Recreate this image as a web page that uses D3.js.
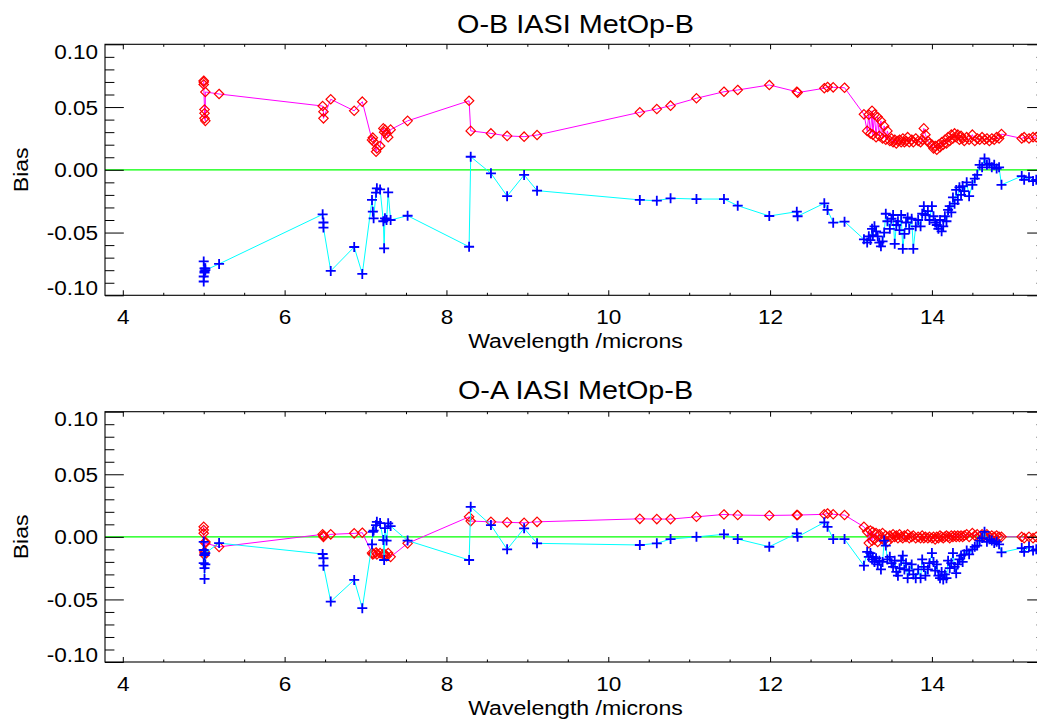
<!DOCTYPE html>
<html><head><meta charset="utf-8">
<script src="https://cdn.jsdelivr.net/npm/d3@7"></script>
<style>
html,body{margin:0;padding:0;background:#fff;}
svg{display:block;}
text{font-family:"Liberation Sans",Arial,Helvetica,sans-serif;fill:#000;}
</style></head><body>
<svg id="chart" width="1037" height="719"></svg>
<script>
// ---- data: channel wavelengths (microns) ----
const wavelengths = [
  5.00, 5.00, 5.00, 5.01, 5.01, 5.01, 5.02, 5.02,
  5.19,
  6.47, 6.48, 6.48,
  6.57, 6.86, 6.96,
  7.08, 7.09, 7.10, 7.13, 7.14, 7.18, 7.22, 7.23, 7.24, 7.26, 7.28, 7.31,
  7.52,
  8.28, 8.30, 8.55, 8.75, 8.96, 9.12,
  10.39, 10.60, 10.77, 11.09, 11.43, 11.60, 11.99, 12.33, 12.34, 12.67, 12.71, 12.78, 12.92, 13.16,
  13.20, 13.22, 13.24, 13.26, 13.27, 13.29, 13.31, 13.33, 13.35, 13.37,
  13.39, 13.41, 13.43, 13.45, 13.48, 13.50, 13.52, 13.54, 13.56, 13.58,
  13.60, 13.62, 13.64, 13.66, 13.68, 13.70, 13.72, 13.75, 13.77, 13.80,
  13.83, 13.86, 13.88, 13.90, 13.92, 13.95, 13.97, 14.00, 14.02, 14.04,
  14.06, 14.08, 14.10, 14.12, 14.14, 14.16, 14.18, 14.20, 14.22, 14.24,
  14.26, 14.28, 14.30, 14.32, 14.34, 14.36, 14.38, 14.40, 14.43, 14.46,
  14.50, 14.53, 14.56, 14.59, 14.62, 14.65, 14.68, 14.71, 14.74, 14.77,
  14.80, 14.83,
  14.86, 15.11, 15.14, 15.20, 15.25, 15.29
];

// O-B panel, diamond series
const obDiamond = [
  0.071, 0.070, 0.068, 0.048, 0.045, 0.041, 0.039, 0.062,
  0.0604,
  0.0508, 0.0463, 0.041,
  0.0562, 0.047, 0.0543,
  0.0238, 0.0256, 0.0224, 0.0144, 0.017, 0.019, 0.033, 0.030, 0.032, 0.029, 0.026, 0.032,
  0.039,
  0.055, 0.031, 0.029, 0.027, 0.0264, 0.0277,
  0.0458, 0.0484, 0.0511, 0.057, 0.0622, 0.0636, 0.0676, 0.0622, 0.0615, 0.065, 0.066, 0.0657, 0.0654, 0.0442,
  0.031, 0.044, 0.029, 0.047, 0.028, 0.044, 0.026, 0.042, 0.027, 0.039,
  0.025, 0.035, 0.024, 0.031, 0.023, 0.025, 0.022, 0.024, 0.021, 0.023,
  0.024, 0.022, 0.025, 0.022, 0.023, 0.026, 0.022, 0.024, 0.022, 0.025,
  0.023, 0.022, 0.024, 0.033, 0.028, 0.023, 0.021, 0.020, 0.017, 0.019,
  0.016, 0.020, 0.018, 0.022, 0.020, 0.024, 0.021, 0.026, 0.023, 0.028,
  0.025, 0.029, 0.026, 0.028, 0.024, 0.027, 0.025, 0.023, 0.026, 0.024,
  0.028, 0.023, 0.025, 0.024, 0.026, 0.024, 0.025, 0.023, 0.025, 0.024,
  0.026, 0.025,
  0.0285, 0.025, 0.026, 0.025, 0.026, 0.026
];

// O-B panel, cross series
const obCross = [
  -0.073, -0.089, -0.085, -0.0785, -0.082, -0.081, -0.0785, -0.080,
  -0.075,
  -0.0355, -0.042, -0.046,
  -0.0806, -0.0615, -0.083,
  -0.024, -0.0334, -0.0387, -0.0182, -0.0148, -0.0156, -0.041, -0.0626, -0.0387, -0.040, -0.018, -0.040,
  -0.0366,
  -0.0613, 0.0104, -0.0028, -0.021, -0.0041, -0.0166,
  -0.024, -0.0246, -0.0227, -0.0233, -0.0233, -0.0286, -0.0368, -0.0334, -0.037, -0.0267, -0.032, -0.0421, -0.0413, -0.0554,
  -0.058, -0.053, -0.056, -0.047, -0.052, -0.045, -0.049, -0.053, -0.058, -0.061,
  -0.057, -0.050, -0.035, -0.041, -0.047, -0.039, -0.036, -0.059, -0.044, -0.041,
  -0.048, -0.036, -0.063, -0.051, -0.042, -0.038, -0.047, -0.039, -0.063, -0.045,
  -0.040, -0.045, -0.035, -0.029, -0.036, -0.033, -0.040, -0.029, -0.037, -0.042,
  -0.044, -0.047, -0.040, -0.049, -0.045, -0.037, -0.041, -0.032, -0.029, -0.034,
  -0.022, -0.027, -0.016, -0.024, -0.014, -0.020, -0.013, -0.017, -0.010, -0.021,
  -0.012, -0.007, -0.004, 0.004, 0.002, 0.009, 0.004, 0.005, 0.002, 0.004,
  0.001, 0.002,
  -0.012, -0.005, -0.008, -0.006, -0.009, -0.008
];

// O-A panel, diamond series
const oaDiamond = [
  0.008, 0.0054, 0.0028, -0.012, -0.0145, -0.013, -0.004, -0.005,
  -0.008,
  0.002, 0.001, 0.0,
  0.002, 0.0028, 0.0033,
  -0.013, -0.014, -0.0135, -0.0125, -0.014, -0.013, -0.0135, -0.015, -0.014, -0.0155, -0.013, -0.016,
  -0.0052,
  0.016, 0.0126, 0.012, 0.0116, 0.0112, 0.012,
  0.0144, 0.0142, 0.0142, 0.016, 0.0179, 0.0174, 0.0171, 0.0174, 0.0174, 0.018, 0.0187, 0.018, 0.0174, 0.008,
  0.004, -0.005, 0.005, -0.003, 0.004, -0.002, 0.003, -0.004, 0.002, -0.001,
  0.003, -0.003, 0.001, -0.004, 0.001, -0.001, 0.002, 0.000, 0.001, -0.001,
  0.002, 0.000, -0.001, 0.001, 0.000, 0.002, -0.001, 0.000, 0.001, -0.001,
  0.000, -0.001, 0.001, -0.001, 0.000, -0.001, 0.000, -0.001, 0.000, -0.002,
  0.000, -0.001, 0.001, 0.000, -0.001, 0.000, 0.001, 0.000, -0.001, 0.001,
  0.000, 0.001, 0.000, 0.001, 0.000, 0.001, 0.000, 0.001, 0.002, 0.000,
  0.003, 0.001, 0.002, 0.000, 0.002, 0.001, 0.002, 0.000, 0.001, 0.000,
  0.001, 0.000,
  0.000, 0.000, -0.001, 0.000, -0.001, 0.000
];

// O-A panel, cross series
const oaCross = [
  -0.004, -0.0105, -0.021, -0.025, -0.0336, -0.0145, -0.022, -0.013,
  -0.005,
  -0.0137, -0.0171, -0.023,
  -0.0517, -0.0344, -0.057,
  -0.006, 0.004, 0.005, 0.0094, 0.012, 0.011, -0.0026, -0.0185, 0.007, -0.003, 0.0108, 0.0086,
  -0.003,
  -0.0185, 0.024, 0.0094, -0.010, 0.0068, -0.0052,
  -0.0065, -0.0052, -0.0018, 0.0, 0.002, -0.0018, -0.0079, 0.0028, 0.0, 0.0116, 0.008, -0.0018, -0.0018, -0.023,
  -0.012, -0.016, -0.013, -0.018, -0.016, -0.020, -0.017, -0.022, -0.019, -0.026,
  -0.020, -0.003, -0.007, -0.018, -0.016, -0.021, -0.024, -0.019, -0.028, -0.031,
  -0.025, -0.019, -0.015, -0.026, -0.021, -0.033, -0.027, -0.022, -0.030, -0.033,
  -0.026, -0.033, -0.018, -0.024, -0.031, -0.026, -0.021, -0.013, -0.020, -0.027,
  -0.022, -0.031, -0.033, -0.028, -0.034, -0.030, -0.033, -0.019, -0.025, -0.021,
  -0.013, -0.024, -0.029, -0.022, -0.018, -0.015, -0.020, -0.014, -0.011, -0.014,
  -0.010, -0.008, -0.007, -0.003, -0.001, 0.004, -0.004, -0.002, -0.003, -0.005,
  -0.004, -0.006,
  -0.0124, -0.009, -0.012, -0.008, -0.011, -0.010
];

const xTickValues = [4, 6, 8, 10, 12, 14];
const xTickLabels = ["4", "6", "8", "10", "12", "14"];
const yTickValues = [-0.10, -0.05, 0.00, 0.05, 0.10];
const yTickLabels = ["-0.10", "-0.05", "0.00", "0.05", "0.10"];
const panelTitles = ["O-B IASI MetOp-B", "O-A IASI MetOp-B"];
const xAxisTitle = "Wavelength /microns";
const yAxisTitle = "Bias";
const xDomain = [3.78, 15.41];
const yDomain = [-0.10, 0.10];

// ---- drawing ----
const svg = d3.select("#chart");
const FONT = '"Liberation Sans", Arial, Helvetica, sans-serif';
const left = 105, right = 1046;
const panels = [
  {top: 44.3, bottom: 295.3, title: panelTitles[0], red: obDiamond, blue: obCross, titleY: 33.3},
  {top: 411.7, bottom: 662.0, title: panelTitles[1], red: oaDiamond, blue: oaCross, titleY: 399.3}
];

const n = wavelengths.length;
[obDiamond, obCross, oaDiamond, oaCross].forEach((a, i) => {
  if (a.length !== n) svg.append("text").attr("x", 300).attr("y", 360 + i * 20).attr("fill", "red").text("len mismatch " + i + ": " + a.length + " vs " + n);
});

const x = d3.scaleLinear().domain(xDomain).range([left, right]);
const xMinor = d3.range(4.5, 15.41, 0.5).filter(v => Math.abs(v % 2) > 1e-6);

panels.forEach(p => {
  const g = svg.append("g");
  const y = d3.scaleLinear().domain(yDomain).range([p.bottom, p.top]);
  const w = right - left, h = p.bottom - p.top;
  const yTickLen = 0.02 * w, xTickLen = 0.02 * h;
  const yMinor = d3.range(-0.09, 0.0951, 0.01).filter(v => Math.abs(Math.round(v * 100) % 5) !== 0);

  // zero line
  g.append("line")
    .attr("x1", left).attr("x2", right)
    .attr("y1", y(0)).attr("y2", y(0))
    .attr("stroke", "#00ff00").attr("stroke-width", 1.3);

  const redPts = wavelengths.map((wv, i) => [wv, p.red[i]]);
  const bluePts = wavelengths.map((wv, i) => [wv, p.blue[i]]);
  const line = d3.line().x(d => x(d[0])).y(d => y(d[1]));

  const clipId = "clip" + Math.round(p.top);
  svg.append("clipPath").attr("id", clipId).append("rect")
    .attr("x", left).attr("y", p.top).attr("width", w).attr("height", h);
  const plot = g.append("g").attr("clip-path", `url(#${clipId})`);

  plot.append("path").datum(redPts).attr("d", line)
    .attr("fill", "none").attr("stroke", "#ff00ff").attr("stroke-width", 1);
  plot.selectAll(".dia").data(redPts).join("path")
    .attr("d", "M0,-4.7L4.7,0L0,4.7L-4.7,0Z")
    .attr("transform", d => `translate(${x(d[0])},${y(d[1])})`)
    .attr("fill", "none").attr("stroke", "#ff0000").attr("stroke-width", 1.2);

  plot.append("path").datum(bluePts).attr("d", line)
    .attr("fill", "none").attr("stroke", "#00ffff").attr("stroke-width", 1);
  plot.selectAll(".crs").data(bluePts).join("path")
    .attr("d", "M-5,0H5M0,-5V5")
    .attr("transform", d => `translate(${x(d[0])},${y(d[1])})`)
    .attr("fill", "none").attr("stroke", "#0000ff").attr("stroke-width", 1.8);

  // axes
  const styleAxis = sel => {
    sel.select(".domain").remove();
    sel.attr("font-family", FONT).attr("font-size", 20.5).attr("color", "#000");
    sel.selectAll("line").attr("stroke-width", 1);
  };
  const sx = 1.1;

  // left major
  const gl = g.append("g").attr("transform", `translate(${left},0)`)
    .call(d3.axisLeft(y).tickValues(yTickValues).tickFormat((d, i) => yTickLabels[i])
      .tickSizeInner(-yTickLen).tickSizeOuter(0).tickPadding(7));
  styleAxis(gl);
  gl.selectAll("text").attr("x", -7 / sx).attr("transform", `scale(${sx},1)`)
    .attr("dy", (d, i) => i === 0 ? "-0.02em" : (i === yTickValues.length - 1 ? "0.68em" : "0.34em"));
  // left minor
  styleAxis(g.append("g").attr("transform", `translate(${left},0)`)
    .call(d3.axisLeft(y).tickValues(yMinor).tickFormat("").tickSizeInner(-yTickLen / 2).tickSizeOuter(0)));
  // right
  styleAxis(g.append("g").attr("transform", `translate(${right},0)`)
    .call(d3.axisRight(y).tickValues(yTickValues).tickFormat("").tickSizeInner(-yTickLen).tickSizeOuter(0)));
  styleAxis(g.append("g").attr("transform", `translate(${right},0)`)
    .call(d3.axisRight(y).tickValues(yMinor).tickFormat("").tickSizeInner(-yTickLen / 2).tickSizeOuter(0)));

  // bottom major
  const gb = g.append("g").attr("transform", `translate(0,${p.bottom})`)
    .call(d3.axisBottom(x).tickValues(xTickValues).tickFormat((d, i) => xTickLabels[i])
      .tickSizeInner(-xTickLen).tickSizeOuter(0).tickPadding(14.5));
  styleAxis(gb);
  gb.selectAll("text").attr("transform", `scale(${sx},1)`);
  styleAxis(g.append("g").attr("transform", `translate(0,${p.bottom})`)
    .call(d3.axisBottom(x).tickValues(xMinor).tickFormat("").tickSizeInner(-xTickLen / 2).tickSizeOuter(0)));
  // top
  styleAxis(g.append("g").attr("transform", `translate(0,${p.top})`)
    .call(d3.axisTop(x).tickValues(xTickValues).tickFormat("").tickSizeInner(-xTickLen).tickSizeOuter(0)));
  styleAxis(g.append("g").attr("transform", `translate(0,${p.top})`)
    .call(d3.axisTop(x).tickValues(xMinor).tickFormat("").tickSizeInner(-xTickLen / 2).tickSizeOuter(0)));

  // frame
  g.append("rect").attr("x", left).attr("y", p.top).attr("width", w).attr("height", h)
    .attr("fill", "none").attr("stroke", "#000").attr("stroke-width", 1.1);

  // titles
  const cx = (left + right) / 2;
  g.append("text").attr("text-anchor", "middle")
    .attr("transform", `translate(${cx},${p.titleY}) scale(1.13,1)`)
    .style("font-size", "25.5px").text(p.title);
  g.append("text").attr("text-anchor", "middle")
    .attr("transform", `translate(${cx},${p.bottom + 53}) scale(1.1,1)`)
    .style("font-size", "21px").text(xAxisTitle);
  g.append("text").attr("text-anchor", "middle")
    .attr("transform", `translate(28.3,${y(0)}) rotate(-90) scale(1.1,1)`)
    .style("font-size", "21px").text(yAxisTitle);
});
</script>
</body></html>
